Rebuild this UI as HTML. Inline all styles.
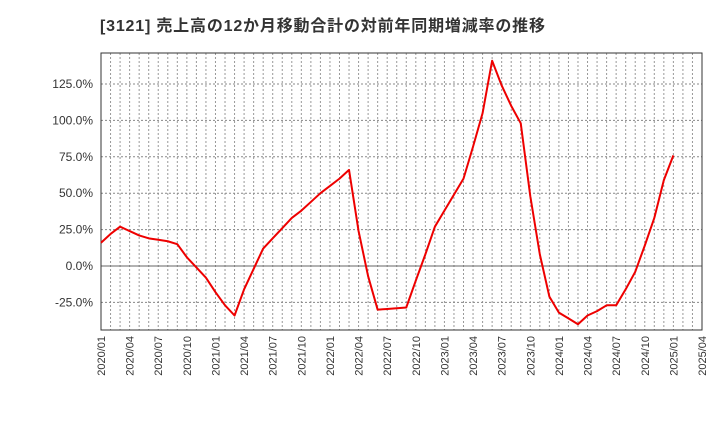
<!DOCTYPE html>
<html><head><meta charset="utf-8"><style>
body{margin:0;background:#fff;font-family:"Liberation Sans","Noto Sans CJK JP",sans-serif}
</style></head><body>
<svg id="c" width="720" height="440" xmlns="http://www.w3.org/2000/svg">
<text x="100" y="31" font-size="16" font-weight="bold" fill="#333" textLength="445" lengthAdjust="spacing" font-family="Liberation Sans, Noto Sans CJK JP, sans-serif">[3121]  売上高の12か月移動合計の対前年同期増減率の推移</text>
<g id="grid"></g><g id="axes"></g><g id="series"></g>
</svg>
<script>
const yTicks=[-25,0,25,50,75,100,125];
const xLabels=["2020/01","2020/04","2020/07","2020/10","2021/01","2021/04","2021/07","2021/10","2022/01","2022/04","2022/07","2022/10","2023/01","2023/04","2023/07","2023/10","2024/01","2024/04","2024/07","2024/10","2025/01","2025/04"];
const values=[16,22,27,24,21,19,18,17,15,6,-1,-8,-18,-27,-34,-16,-2,12,19,26,33,38,44,50,55,60,66,24,-7,-30,-29.5,-29,-28.5,-10,8,27,38,49,60,82,105,141,124,110,98,48,8,-21,-32,-36,-40,-34,-31,-27,-27,-16,-4,14,33,59,76];
const L=101,R=702,T=53,B=330,NM=63;
const x=i=>L+(R-L)*i/NM;
const y=v=>266-v*(182/125);
const ns="http://www.w3.org/2000/svg";
function mk(t,a,p){const e=document.createElementNS(ns,t);for(const k in a)e.setAttribute(k,a[k]);p.appendChild(e);return e;}
const g=document.getElementById('grid'),ax=document.getElementById('axes'),s=document.getElementById('series');
for(let m=1;m<NM;m++){const l=mk('line',{x1:x(m),x2:x(m),y1:T,y2:B,stroke:'#999','stroke-dasharray':'2,2','stroke-width':1},g);

}
yTicks.forEach(v=>{const l=mk('line',{x1:L,x2:R,y1:y(v),y2:y(v),stroke:v==0?'#666':'#888','stroke-dasharray':v==0?'none':'2,2','stroke-width':1},g);


const t=mk('text',{x:L-8,y:y(v)+4,'text-anchor':'end','font-size':12,fill:'#333'},ax);t.textContent=v.toFixed(1)+'%';

});
const fr=mk('rect',{x:L,y:T,width:R-L,height:B-T,fill:'none',stroke:'#333'},ax);


xLabels.forEach((lb,i)=>{const xx=x(i*3);const t=mk('text',{x:xx+4,y:B+6,'text-anchor':'end','font-size':11,fill:'#333',transform:`rotate(-90 ${xx+4} ${B+6})`},ax);t.textContent=lb;

});
const p=mk('polyline',{points:values.map((v,i)=>x(i)+','+y(v)).join(' '),fill:'none',stroke:'#e00',"stroke-width":2,"stroke-linejoin":"round"},s);


</script>
</body></html>
